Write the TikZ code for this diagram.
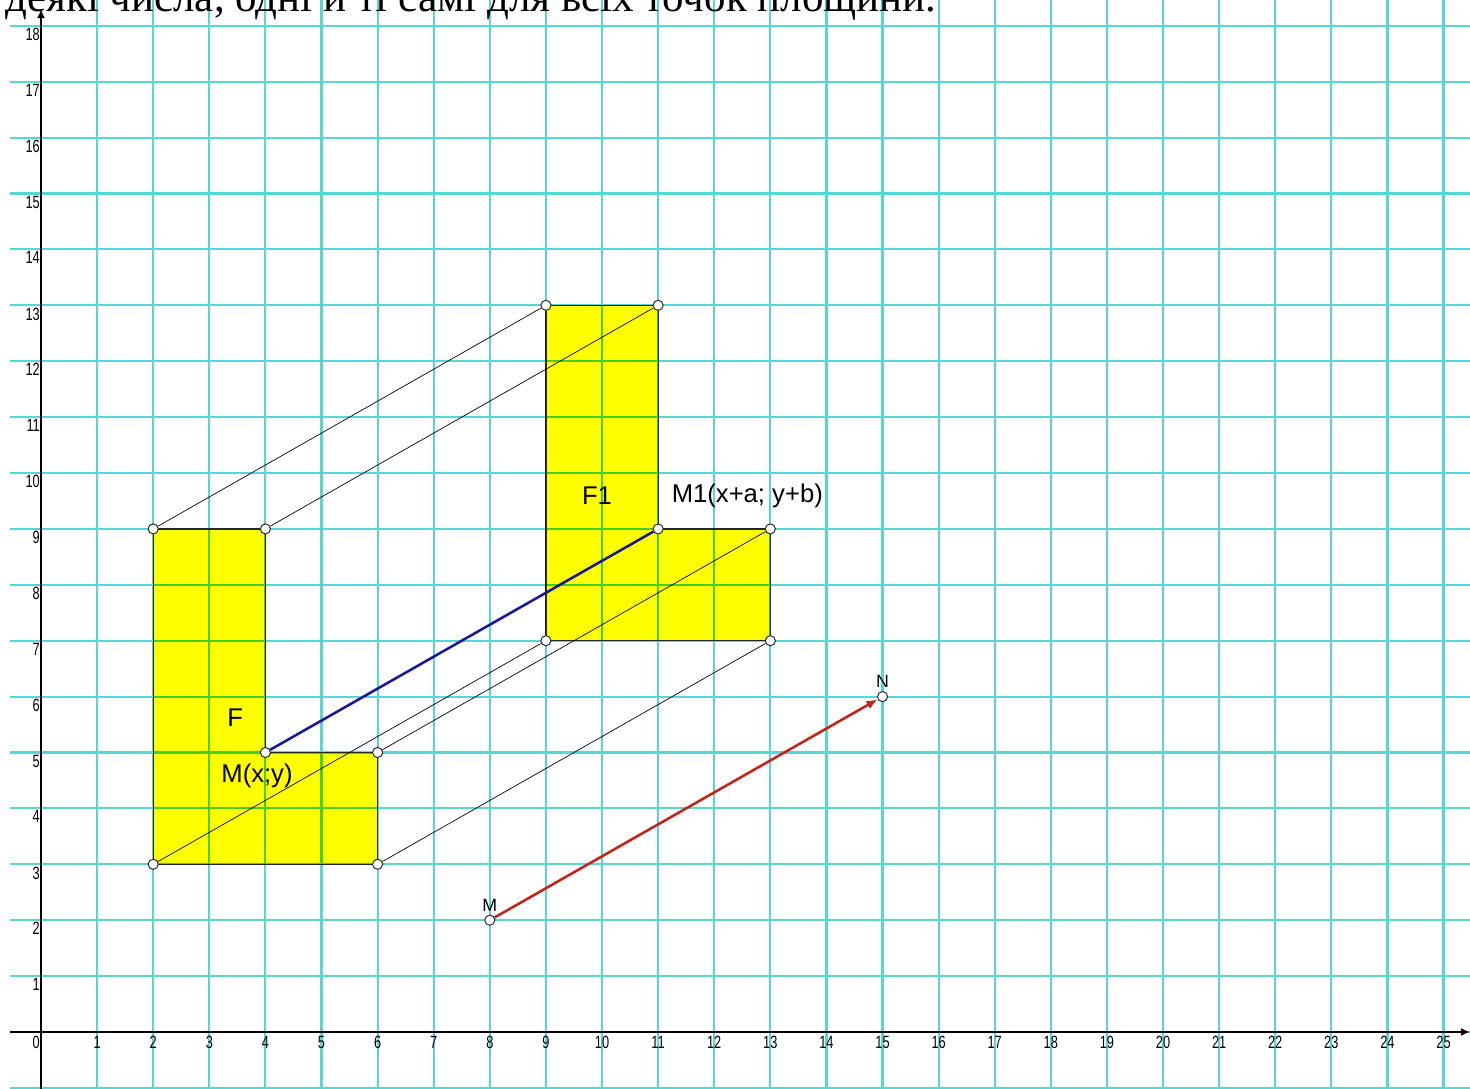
\documentclass[tikz,border=0pt]{standalone}
\usepackage{fontspec}
\setmainfont{Liberation Sans}
\newfontfamily\textserif{Liberation Serif}
\usetikzlibrary{arrows.meta,positioning}

\definecolor{gridcyan}{RGB}{85,215,212}
\definecolor{gridgreen}{RGB}{70,205,40}
\definecolor{figyellow}{RGB}{255,255,0}
\definecolor{vecblue}{RGB}{25,25,150}
\definecolor{vecred}{RGB}{195,35,25}

\newcommand{\ticklbl}[1]{\scalebox{0.72}[1]{#1}}

\begin{document}
\begin{tikzpicture}[
  x=1cm, y=0.9964cm,
  font=\fontsize{13}{15}\selectfont,
  gridline/.style={line width=1.1pt, draw=gridcyan},
  axisline/.style={line width=0.9pt, draw=black},
  figure/.style={fill=figyellow, draw=black!85, line width=0.6pt},
  pt/.style={circle, draw=black!85, fill=white, line width=0.5pt, inner sep=0pt, minimum size=1.8mm},
  link/.style={draw=black, line width=0.35pt},
  tick/.style={font=\fontsize{9}{10}\selectfont, inner sep=1pt},
  small/.style={font=\fontsize{9}{10}\selectfont, inner sep=1pt}
]
\clip (-0.731,-1.002) rectangle (25.472,18.462);

% grid
\foreach \i in {1,...,25}
  \draw[gridline] (\i,-1.2) -- (\i,18.6);
\foreach \j in {-1,...,18}
  \draw[gridline] (-0.55,\j) -- (25.6,\j);

% figures F and F1
\path[figure] (2,3) -- (6,3) -- (6,5) -- (4,5) -- (4,9) -- (2,9) -- cycle;
\path[figure] (9,7) -- (13,7) -- (13,9) -- (11,9) -- (11,13) -- (9,13) -- cycle;
\begin{scope}
  \clip (2,3) -- (6,3) -- (6,5) -- (4,5) -- (4,9) -- (2,9) -- cycle
        (9,7) -- (13,7) -- (13,9) -- (11,9) -- (11,13) -- (9,13) -- cycle;
  \foreach \i in {2,...,13}
    \draw[gridline, draw=gridgreen] (\i,2) -- (\i,14);
  \foreach \j in {3,...,13}
    \draw[gridline, draw=gridgreen] (1,\j) -- (14,\j);
\end{scope}
\draw[black!85, line width=0.6pt] (2,3) -- (6,3) -- (6,5) -- (4,5) -- (4,9) -- (2,9) -- cycle;
\draw[black!85, line width=0.6pt] (9,7) -- (13,7) -- (13,9) -- (11,9) -- (11,13) -- (9,13) -- cycle;

% axes
\draw[axisline, -{Latex[length=1.6mm, width=1.4mm]}] (-0.55,0) -- (25.47,0);
\draw[axisline, -{Latex[length=1.6mm, width=1.4mm]}] (0,-1.1) -- (0,18.3);

% tick labels
\node[tick, anchor=north east] (t0) at (0.02,-0.03) {\ticklbl{0}};
\foreach \i in {1,...,25}
  \node[tick, anchor=north] (tx\i) at (\i,-0.03) {\ticklbl{\i}};
\foreach \j in {1,...,18}
  \node[tick, anchor=north east] (ty\j) at (0.02,\j) {\ticklbl{\j}};

% vertices
\node[pt] (a1) at (2,3) {};
\node[pt] (a2) at (6,3) {};
\node[pt] (a3) at (6,5) {};
\node[pt] (a4) at (4,5) {};
\node[pt] (a5) at (4,9) {};
\node[pt] (a6) at (2,9) {};
\node[pt] (b1) at (9,7) {};
\node[pt] (b2) at (13,7) {};
\node[pt] (b3) at (13,9) {};
\node[pt] (b4) at (11,9) {};
\node[pt] (b5) at (11,13) {};
\node[pt] (b6) at (9,13) {};
\node[pt] (m) at (8,2) {};
\node[pt] (n) at (15,6) {};

% translation lines
\draw[link] (a1) -- (b1);
\draw[link] (a2) -- (b2);
\draw[link] (a3) -- (b3);
\draw[link] (a5) -- (b5);
\draw[link] (a6) -- (b6);
\draw[vecblue, line width=1.3pt] (a4) -- (b4);
\draw[vecred, line width=1.3pt, -{Latex[length=2mm, width=1.6mm]}] (m) -- (n);

% labels
\node (lblF) at (3.46,5.63) {F};
\node (lblM) at (3.85,4.59) {M(x;y)};
\node (lblF1) at (9.91,9.59) {F1};
\node[anchor=west] (lblM1) at (11.12,9.59) {M1(x+a; y+b)};
\node[small, above=0.5pt of m] (lblm) {M};
\node[small, above=0.5pt of n] (lbln) {N};

% caption line cut at the top
\node[anchor=base west, inner sep=0pt, font=\textserif\fontsize{21.8}{25}\selectfont] (caption)
  at (-0.64,18.25) {деякі числа, одні й ті самі для всіх точок площини.};
\end{tikzpicture}
\end{document}
